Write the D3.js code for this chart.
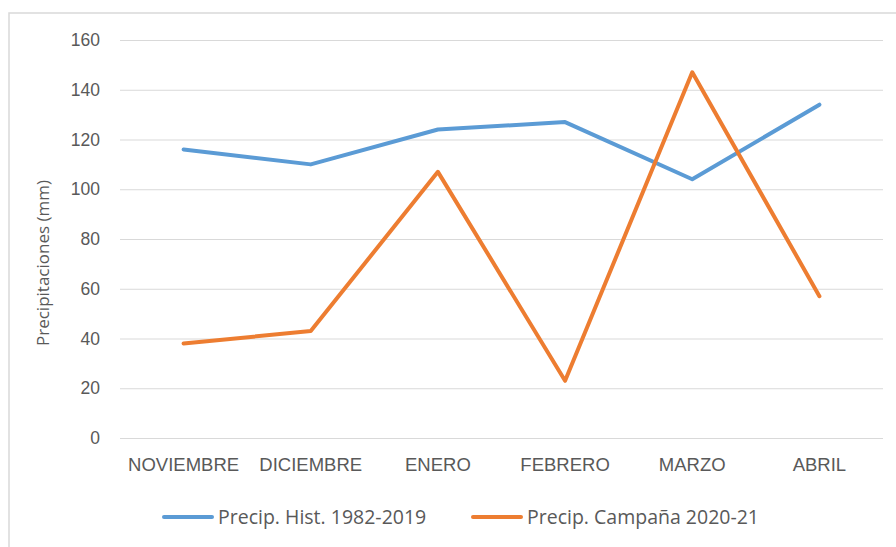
<!DOCTYPE html>
<html>
<head>
<meta charset="utf-8">
<script src="https://cdn.jsdelivr.net/npm/d3@7.9.0/dist/d3.min.js"></script>
<style>
  body { margin: 0; background: #fff; }
  svg { display: block; font-family: 'Open Sans', sans-serif; }
</style>
</head>
<body>
<div id="chart"></div>
<script>
const months = ['NOVIEMBRE', 'DICIEMBRE', 'ENERO', 'FEBRERO', 'MARZO', 'ABRIL'];
const histValues = [116, 110, 124, 127, 104, 134];
const campValues = [38, 43, 107, 23, 147, 57];
const yTicks = [0, 20, 40, 60, 80, 100, 120, 140, 160];
const seriesNames = ['Precip. Hist. 1982-2019', 'Precip. Campaña 2020-21'];

const width = 896, height = 547;
const plot = { left: 120, right: 883, top: 40, bottom: 438 };
const textColor = '#595959';
const colors = ['#5B9BD5', '#ED7D31'];

const svg = d3.select('#chart').append('svg')
  .attr('width', width)
  .attr('height', height);

// outer frame
svg.append('rect')
  .attr('x', 9).attr('y', 13)
  .attr('width', 900).attr('height', 560)
  .attr('fill', 'none')
  .attr('stroke', '#d9d9d9')
  .attr('stroke-width', 1.5);

const x = d3.scaleBand()
  .domain(months)
  .range([plot.left, plot.right]);

const y = d3.scaleLinear()
  .domain([0, 160])
  .range([plot.bottom, plot.top]);

// gridlines
svg.append('g')
  .attr('class', 'gridlines')
  .attr('transform', `translate(${plot.left},0)`)
  .call(d3.axisLeft(y).tickValues(yTicks).tickSize(-(plot.right - plot.left)).tickFormat(''))
  .call(g => g.select('.domain').remove())
  .call(g => g.selectAll('line').attr('stroke', '#d9d9d9').attr('stroke-width', 1));

// y axis labels
svg.append('g')
  .attr('class', 'y-axis')
  .attr('transform', `translate(${plot.left},0)`)
  .call(d3.axisLeft(y).tickValues(yTicks).tickSize(0).tickPadding(20))
  .call(g => g.select('.domain').remove())
  .call(g => g.selectAll('text')
    .attr('fill', textColor)
    .style('font-size', '17.5px'));

// x axis labels
svg.append('g')
  .attr('class', 'x-axis')
  .attr('transform', `translate(0,${plot.bottom})`)
  .call(d3.axisBottom(x).tickSize(0).tickPadding(20))
  .call(g => g.select('.domain').remove())
  .call(g => g.selectAll('text')
    .attr('fill', textColor)
    .style('font-size', '18.5px'));

// y axis title
svg.append('text')
  .attr('transform', `translate(49,${(plot.top + plot.bottom) / 2 + 24}) rotate(-90)`)
  .attr('text-anchor', 'middle')
  .attr('fill', textColor)
  .style('font-size', '17px')
  .text('Precipitaciones (mm)');

const line = d3.line()
  .x((d, i) => x(months[i]) + x.bandwidth() / 2)
  .y(d => y(d));

[histValues, campValues].forEach((vals, i) => {
  svg.append('path')
    .datum(vals)
    .attr('fill', 'none')
    .attr('stroke', colors[i])
    .attr('stroke-width', 4)
    .attr('stroke-linejoin', 'round')
    .attr('stroke-linecap', 'round')
    .attr('d', line);
});

// legend
const legendX = [164, 473];
const legend = svg.append('g').attr('class', 'legend');
seriesNames.forEach((name, i) => {
  const g = legend.append('g').attr('transform', `translate(${legendX[i]},517)`);
  g.append('line')
    .attr('x1', 0).attr('x2', 48)
    .attr('stroke', colors[i])
    .attr('stroke-width', 4)
    .attr('stroke-linecap', 'round');
  g.append('text')
    .attr('x', 54)
    .attr('dy', '0.35em')
    .attr('fill', textColor)
    .style('font-size', '19.5px')
    .text(name);
});
</script>
</body>
</html>
